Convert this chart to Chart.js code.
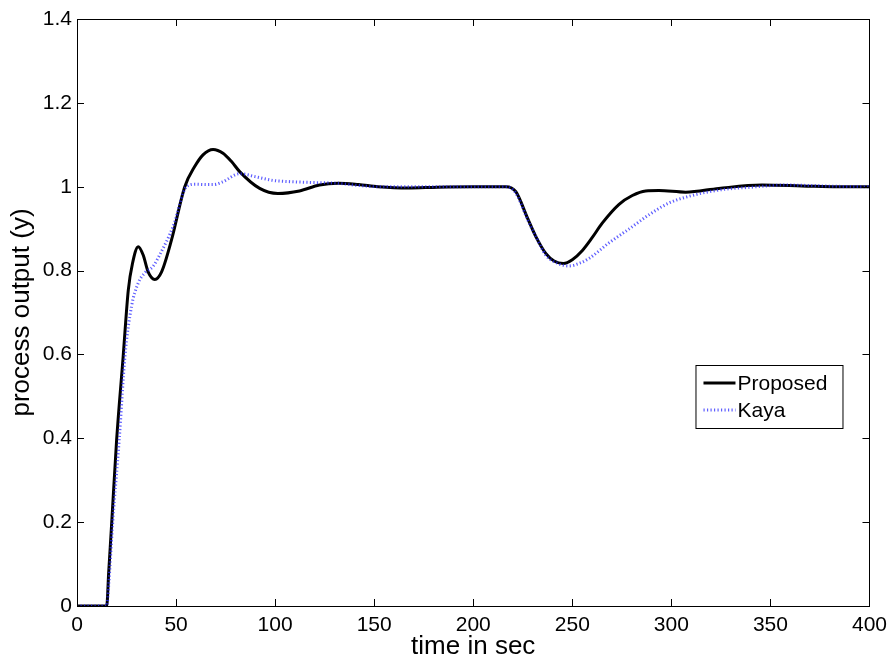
<!DOCTYPE html>
<html>
<head>
<meta charset="utf-8">
<script src="https://cdn.jsdelivr.net/npm/chart.js@4.4.1/dist/chart.umd.min.js"></script>
<style>
  body { margin: 0; background: #fff; }
  canvas { display: block; }
</style>
</head>
<body>
<canvas id="myChart" width="894" height="662"></canvas>
<script>
// time (s) and output values
var proposedT = [0, 15, 16, 17.5, 20, 23.3, 25.9, 28, 30.9, 33.4, 35.9, 39.3, 42.7, 47.7, 54.4, 59.4, 63.6, 68.7, 73.7, 78, 82.1, 92.2, 101.4, 112.3, 122.4, 132, 142, 152, 167, 182, 200, 216.5, 221.5, 227.4, 231.6, 236.6, 240.8, 245.5, 250, 255.1, 260.1, 265.1, 273.6, 280.3, 287, 293.7, 307.2, 323.9, 345.7, 365.9, 384, 400];
var proposedY = [0, 0, 0.08, 0.197, 0.396, 0.595, 0.754, 0.817, 0.857, 0.837, 0.797, 0.779, 0.797, 0.873, 1.0, 1.048, 1.076, 1.089, 1.08, 1.06, 1.036, 0.996, 0.984, 0.99, 1.004, 1.008, 1.005, 1.0, 0.997, 0.999, 1.0, 1.0, 0.988, 0.925, 0.881, 0.841, 0.823, 0.817, 0.826, 0.848, 0.879, 0.913, 0.958, 0.979, 0.99, 0.991, 0.987, 0.996, 1.004, 1.002, 1.0, 1.0];

var kayaT = [0, 15, 16, 18, 21.3, 24.2, 27.5, 30.9, 34.3, 38.4, 41.8, 48.5, 55.3, 60, 65.3, 69, 73.7, 82.1, 90, 98.9, 108, 119, 132, 142, 152, 182, 216.5, 221.5, 227.4, 232, 236.6, 243.3, 248.4, 253.4, 258.5, 263.5, 268.5, 278.6, 288.7, 298.7, 308.8, 323.9, 340.6, 357.4, 382.6, 400];
var kayaY = [0, 0, 0.05, 0.197, 0.396, 0.595, 0.714, 0.77, 0.795, 0.81, 0.838, 0.905, 1.0, 1.006, 1.005, 1.005, 1.012, 1.031, 1.024, 1.015, 1.012, 1.01, 1.008, 1.003, 1.0, 1.0, 1.0, 0.985, 0.922, 0.878, 0.837, 0.816, 0.811, 0.817, 0.829, 0.847, 0.866, 0.899, 0.933, 0.961, 0.977, 0.992, 0.999, 1.004, 1.001, 1.0];

var xTicks = [0, 50, 100, 150, 200, 250, 300, 350, 400];
var yTicks = [0, 0.2, 0.4, 0.6, 0.8, 1, 1.2, 1.4];
var yTickLabels = ['0', '0.2', '0.4', '0.6', '0.8', '1', '1.2', '1.4'];
var seriesNames = ['Proposed', 'Kaya'];

function toPoints(t, y) {
    var pts = [];
    for (var i = 0; i < t.length; i++) {
        pts.push({x: t[i], y: y[i]});
    }
    return pts;
}

var FONT = '"Liberation Sans", Arial, sans-serif';

// box + inward ticks on all four sides, matlab style
var boxTicks = {
    id: 'boxTicks',
    afterDatasetsDraw: function(chart) {
        var ctx = chart.ctx;
        var a = chart.chartArea;
        var xs = chart.scales.x, ys = chart.scales.y;
        var len = 7;
        ctx.save();
        ctx.strokeStyle = '#000';
        ctx.lineWidth = 1;
        ctx.beginPath();
        for (var i = 0; i < xTicks.length; i++) {
            var px = Math.round(xs.getPixelForValue(xTicks[i])) + 0.5;
            ctx.moveTo(px, a.bottom); ctx.lineTo(px, a.bottom - len);
            ctx.moveTo(px, a.top); ctx.lineTo(px, a.top + len);
        }
        for (var j = 0; j < yTicks.length; j++) {
            var py = Math.round(ys.getPixelForValue(yTicks[j])) + 0.5;
            ctx.moveTo(a.left, py); ctx.lineTo(a.left + len, py);
            ctx.moveTo(a.right, py); ctx.lineTo(a.right - len, py);
        }
        ctx.stroke();
        ctx.strokeRect(Math.round(a.left) + 0.5, Math.round(a.top) + 0.5,
                       Math.round(a.right - a.left), Math.round(a.bottom - a.top));
        ctx.restore();
    }
};

// legend box inside the axes, like the original
var innerLegend = {
    id: 'innerLegend',
    afterDraw: function(chart) {
        var ctx = chart.ctx;
        var a = chart.chartArea;
        var bx = a.right - 174, by = 365, bw = 147, bh = 63;
        ctx.save();
        ctx.fillStyle = '#fff';
        ctx.fillRect(bx, by, bw, bh);
        ctx.strokeStyle = '#000';
        ctx.lineWidth = 1;
        ctx.strokeRect(bx + 0.5, by + 0.5, bw, bh);
        var ds = chart.data.datasets;
        ctx.font = '21px ' + FONT;
        ctx.textBaseline = 'middle';
        for (var i = 0; i < seriesNames.length; i++) {
            var ly = by + 18 + i * 27;
            ctx.beginPath();
            ctx.strokeStyle = ds[i].borderColor;
            ctx.lineWidth = ds[i].borderWidth;
            ctx.setLineDash(ds[i].borderDash || []);
            ctx.moveTo(bx + 8, ly);
            ctx.lineTo(bx + 40, ly);
            ctx.stroke();
            ctx.setLineDash([]);
            ctx.fillStyle = '#000';
            ctx.fillText(seriesNames[i], bx + 42, ly + 1);
        }
        ctx.restore();
    }
};

var context = document.getElementById('myChart').getContext('2d');

var myChart = new Chart(context, {
    type: 'line',
    data: {
        datasets: [{
            label: seriesNames[0],
            data: toPoints(proposedT, proposedY),
            borderColor: '#000',
            borderWidth: 3,
            pointRadius: 0,
            cubicInterpolationMode: 'monotone',
            order: 1
        }, {
            label: seriesNames[1],
            data: toPoints(kayaT, kayaY),
            borderColor: 'rgba(40, 40, 255, 0.75)',
            borderWidth: 3,
            borderDash: [1.2, 2.3],
            pointRadius: 0,
            cubicInterpolationMode: 'monotone',
            order: 0
        }]
    },
    options: {
        responsive: false,
        animation: false,
        layout: { padding: { top: 19, right: 23, left: 0, bottom: 0 } },
        plugins: {
            legend: { display: false },
            tooltip: { enabled: false }
        },
        scales: {
            x: {
                type: 'linear',
                min: 0,
                max: 400,
                afterBuildTicks: function(scale) {
                    scale.ticks = xTicks.map(function(v) { return {value: v}; });
                },
                afterFit: function(scale) { scale.height = 56; },
                grid: { display: false, drawTicks: false },
                border: { display: false },
                ticks: {
                    color: '#000',
                    padding: 7,
                    maxRotation: 0,
                    font: { family: FONT, size: 21 }
                },
                title: {
                    display: true,
                    text: 'time in sec',
                    color: '#000',
                    padding: { top: 0, bottom: 0 },
                    font: { family: FONT, size: 26 }
                }
            },
            y: {
                min: 0,
                max: 1.4,
                afterBuildTicks: function(scale) {
                    scale.ticks = yTicks.map(function(v) { return {value: v}; });
                },
                afterFit: function(scale) { scale.width = 77; },
                grid: { display: false, drawTicks: false },
                border: { display: false },
                ticks: {
                    color: '#000',
                    padding: 5,
                    font: { family: FONT, size: 21 },
                    callback: function(value) {
                        var k = yTicks.indexOf(value);
                        return k >= 0 ? yTickLabels[k] : '';
                    }
                },
                title: {
                    display: true,
                    text: 'process output (y)',
                    color: '#000',
                    padding: { top: 6, bottom: 0 },
                    font: { family: FONT, size: 26 }
                }
            }
        }
    },
    plugins: [boxTicks, innerLegend]
});
</script>
</body>
</html>
